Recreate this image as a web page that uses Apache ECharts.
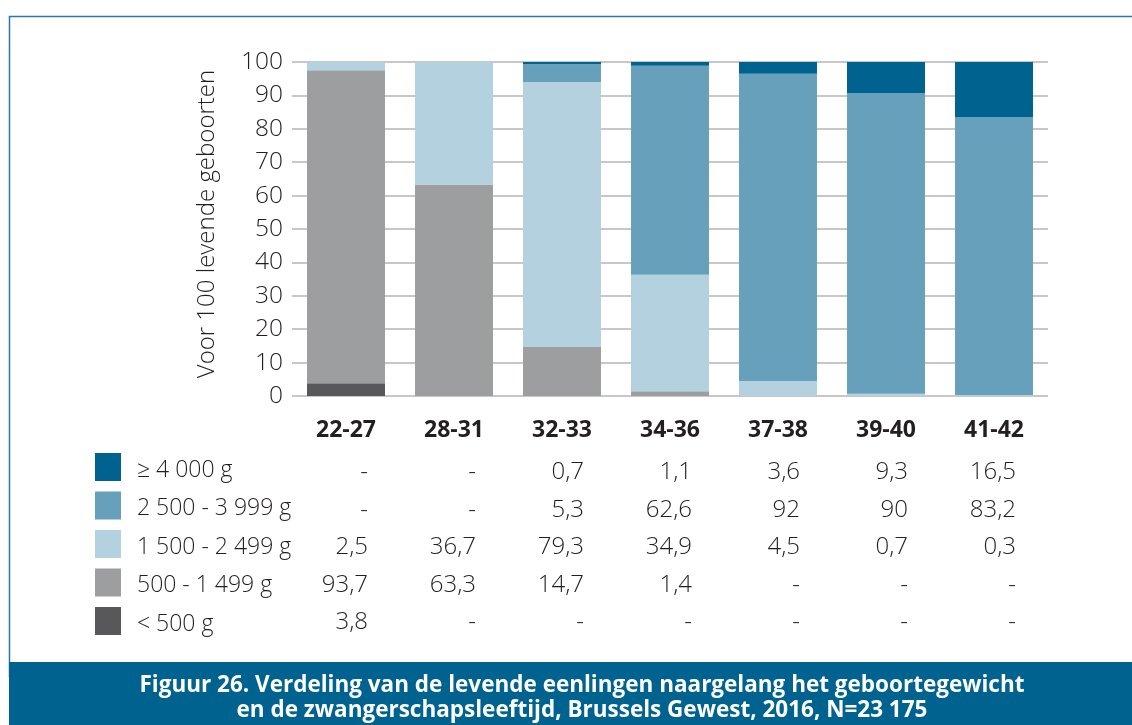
<!DOCTYPE html>
<html>
<head>
<meta charset="utf-8">
<script src="https://cdn.jsdelivr.net/npm/echarts@6/dist/echarts.min.js"></script>
<style>html,body{margin:0;padding:0;background:#fff;}#c{width:1132px;height:725px;}</style>
</head>
<body>
<div id="c"></div>
<script>
// ---- data ----
const categories = ['22-27', '28-31', '32-33', '34-36', '37-38', '39-40', '41-42'];
const seriesNames = ['< 500 g', '500 - 1 499 g', '1 500 - 2 499 g', '2 500 - 3 999 g', '≥ 4 000 g'];
const lt500      = [3.8, null, null, null, null, null, null];
const w500_1499  = [93.7, 63.3, 14.7, 1.4, null, null, null];
const w1500_2499 = [2.5, 36.7, 79.3, 34.9, 4.5, 0.7, 0.3];
const w2500_3999 = [null, null, 5.3, 62.6, 92, 90, 83.2];
const ge4000     = [null, null, 0.7, 1.1, 3.6, 9.3, 16.5];
const yTicks = [0, 10, 20, 30, 40, 50, 60, 70, 80, 90, 100];
const yTitle = 'Voor 100 levende geboorten';
const captionLines = ['Figuur 26. Verdeling van de levende eenlingen naargelang het geboortegewicht',
                      'en de zwangerschapsleeftijd, Brussels Gewest, 2016, N=23 175'];

const seriesValues = [lt500, w500_1499, w1500_2499, w2500_3999, ge4000];
const colors = ['#58585a', '#9d9ea0', '#b3d1df', '#66a0bb', '#00628f'];
// table rows top to bottom
const tableOrder = [4, 3, 2, 1, 0];

const FONT = '"Open Sans", "Noto Sans", sans-serif';
const fmt = v => (v === null || v === undefined) ? '-' : String(v).replace('.', ',');

const xAxes = [{
  type: 'category', data: categories, gridIndex: 0, position: 'bottom',
  axisLine: { show: false }, axisTick: { show: false },
  axisLabel: { color: '#231f20', fontFamily: FONT, fontWeight: 'bold', fontSize: 23, margin: 23 }
}];
const rowOffsets = [42, 80, 117, 155, 192];
tableOrder.forEach((si, r) => {
  xAxes.push({
    type: 'category', data: categories, gridIndex: 0, position: 'bottom', offset: rowOffsets[r],
    axisLine: { show: false }, axisTick: { show: false }, splitLine: { show: false },
    axisLabel: {
      interval: 0, margin: 22,
      formatter: (val, idx) => '{v|' + fmt(seriesValues[si][idx]) + '}',
      rich: { v: { width: 44, align: 'right', color: '#231f20', fontFamily: FONT, fontSize: 24, fontWeight: 300 } }
    }
  });
});

const chart = echarts.init(document.getElementById('c'), null, { renderer: 'canvas' });
chart.setOption({
  animation: false,
  backgroundColor: '#fff',
  color: colors,
  title: {
    text: captionLines.join('\n'),
    left: 577, top: 668, textAlign: 'center',
    textStyle: { color: '#fff', fontFamily: FONT, fontWeight: 'bold', fontSize: 22.5, lineHeight: 25 }
  },
  graphic: [
    { type: 'rect', z: -10, shape: { x: 9.5, y: 16.5, width: 1140, height: 660 },
      style: { fill: 'none', stroke: '#2a78a6', lineWidth: 1.5 } },
    { type: 'rect', z: -5, shape: { x: 9, y: 662, width: 1130, height: 70 },
      style: { fill: '#00628f' } }
  ],
  legend: {
    orient: 'vertical', left: 95, top: 453, padding: 0,
    data: tableOrder.map(i => seriesNames[i]),
    icon: 'rect', itemWidth: 26, itemHeight: 28, itemGap: 10,
    selectedMode: false,
    formatter: name => '{t|' + name + '}',
    textStyle: {
      color: '#231f20', fontFamily: FONT, fontSize: 23, fontWeight: 300,
      rich: { t: { color: '#231f20', fontFamily: FONT, fontSize: 23, fontWeight: 300, padding: [6, 0, 0, 11] } }
    }
  },
  grid: { left: 292, right: 84, top: 62, bottom: 329, containLabel: false },
  xAxis: xAxes,
  yAxis: {
    type: 'value', min: yTicks[0], max: yTicks[yTicks.length - 1], interval: 10,
    name: yTitle, nameLocation: 'middle', nameRotate: 90, nameGap: 73,
    nameTextStyle: { color: '#231f20', fontFamily: FONT, fontSize: 24, fontWeight: 300, padding: [0, 0, 0, 10] },
    axisLine: { show: false }, axisTick: { show: false },
    axisLabel: { color: '#231f20', fontFamily: FONT, fontSize: 24.5, fontWeight: 300, margin: 9 },
    splitLine: { lineStyle: { color: '#b4b4b4', width: 1.5 } }
  },
  series: seriesNames.map((name, i) => ({
    name, type: 'bar', stack: 'total', xAxisIndex: 0,
    data: seriesValues[i],
    barCategoryGap: '27.8%',
    itemStyle: { color: colors[i] }
  }))
});
</script>
</body>
</html>
